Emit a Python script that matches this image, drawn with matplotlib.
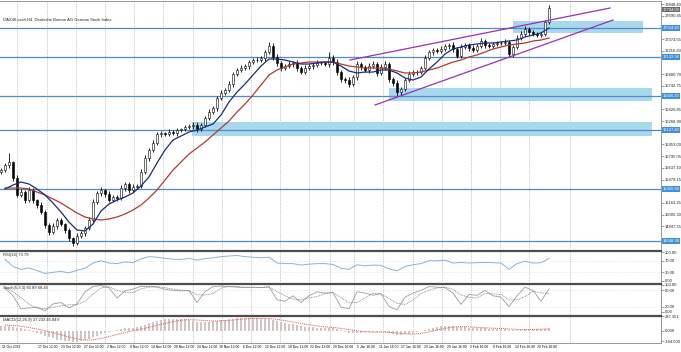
import matplotlib
matplotlib.use("Agg")
import matplotlib.pyplot as plt
import matplotlib.transforms as mtransforms
from matplotlib.patches import Rectangle
import numpy as np

W, H = 681, 352
FONT = "Liberation Sans"

# ---- price data (H4 candles) ----
first_open = 15580
close = [
    15607, 15675, 15715, 15499, 15270, 15310, 15202, 15337, 15202, 15135,
    15040, 14865, 14770, 14851, 14932, 14878, 14797, 14689, 14622, 14716,
    14757, 14824, 14932, 15175, 15297, 15337, 15283, 15202, 15243, 15229,
    15364, 15418, 15337, 15378, 15391, 15580, 15769, 15877, 15972, 16093,
    16107, 16093, 16120, 16107, 16147, 16161, 16188, 16201, 16215, 16161,
    16215, 16309, 16390, 16444, 16579, 16647, 16687, 16768, 16903, 16957,
    16984, 17011, 17065, 17092, 17092, 17119, 17200, 17281, 17133, 17052,
    16984, 17011, 17038, 17052, 16984, 16930, 16984, 17011, 17025, 17052,
    17052, 17038, 17119, 17065, 16930, 16836, 16822, 16768, 16863, 17038,
    16998, 16957, 17011, 17038, 16917, 16998, 17038, 16836, 16782, 16660,
    16701, 16822, 16903, 16930, 16930, 16984, 17119, 17200, 17227, 17214,
    17241, 17281, 17295, 17241, 17146, 17268, 17295, 17254, 17227, 17281,
    17349, 17295, 17281, 17308, 17322, 17322, 17335, 17173, 17268, 17389,
    17443, 17510, 17470, 17443, 17430, 17443, 17605, 17794,
]
wick_up = [
    25, 30, 120, 20, 35, 40, 25, 45, 30, 20,
    35, 25, 30, 45, 25, 30, 20, 25, 15, 40,
    30, 25, 45, 35, 30, 40, 20, 35, 25, 30,
    45, 30, 25, 40, 30, 35, 45, 30, 40, 25,
    30, 20, 35, 25, 30, 20, 25, 30, 35, 40,
    25, 30, 35, 30, 25, 35, 30, 40, 30, 25,
    35, 30, 25, 30, 35, 30, 25, 55, 40, 35,
    30, 25, 35, 30, 45, 30, 35, 25, 30, 35,
    25, 30, 80, 35, 40, 30, 25, 35, 30, 45,
    30, 25, 35, 40, 30, 45, 35, 30, 25, 35,
    30, 25, 35, 30, 25, 30, 40, 30, 25, 30,
    35, 25, 30, 35, 25, 45, 30, 25, 35, 30,
    40, 30, 25, 30, 25, 30, 35, 25, 30, 35,
    40, 35, 30, 25, 30, 30, 25, 40,
]
wick_dn = [
    30, 25, 35, 40, 30, 25, 45, 30, 35, 40,
    30, 35, 40, 25, 35, 30, 40, 35, 40, 30,
    25, 35, 30, 25, 30, 35, 40, 30, 25, 35,
    30, 40, 35, 25, 30, 25, 30, 35, 25, 30,
    35, 30, 25, 30, 35, 30, 25, 30, 35, 45,
    30, 25, 30, 25, 35, 30, 25, 30, 35, 30,
    25, 30, 35, 25, 30, 25, 35, 30, 40, 35,
    45, 30, 25, 35, 40, 30, 25, 30, 35, 30,
    25, 30, 35, 40, 45, 35, 40, 45, 30, 35,
    40, 30, 35, 30, 45, 30, 35, 40, 45, 50,
    35, 30, 25, 30, 35, 30, 25, 30, 35, 30,
    25, 30, 35, 45, 30, 25, 30, 35, 30, 25,
    30, 35, 30, 25, 30, 30, 25, 40, 35, 30,
    25, 30, 35, 30, 25, 30, 30, 20,
]

# moving averages / oscillators, sampled every second candle
ma_fast = [
    15351, 15405, 15445, 15418, 15351, 15270, 15162, 15040, 14905, 14797,
    14784, 14878, 15054, 15148, 15202, 15243, 15297, 15391, 15513, 15702,
    15877, 16012, 16066, 16120, 16147, 16188, 16228, 16350, 16525, 16660,
    16768, 16890, 17011, 17106, 17106, 17092, 17065, 17038, 17038, 17052,
    17065, 17065, 17011, 16944, 16917, 16930, 16930, 16957, 16957, 16917,
    16849, 16822, 16863, 16971, 17065, 17173, 17241, 17268, 17295, 17308,
    17322, 17322, 17335, 17349, 17362, 17403, 17430, 17457, 17524,
]
ma_slow = [
    15364, 15364, 15364, 15351, 15310, 15270, 15216, 15162, 15094, 15027,
    14973, 14946, 14932, 14946, 14973, 15013, 15067, 15135, 15229, 15337,
    15472, 15607, 15715, 15823, 15904, 15985, 16080, 16174, 16269, 16390,
    16498, 16620, 16755, 16890, 16957, 16998, 17038, 17052, 17065, 17065,
    17065, 17065, 17038, 17011, 16998, 16984, 16984, 16984, 16971, 16944,
    16917, 16917, 16930, 16957, 16984, 17025, 17065, 17092, 17133, 17160,
    17200, 17241, 17268, 17295, 17308, 17322, 17349, 17362, 17389,
]
rsi = [
    75, 50, 40, 45, 36, 26, 30, 33, 28, 37,
    44, 62, 70, 62, 60, 66, 63, 76, 84, 82,
    78, 75, 74, 78, 72, 77, 80, 84, 86, 88,
    84, 82, 80, 82, 62, 60, 60, 55, 58, 60,
    60, 57, 44, 40, 56, 52, 55, 54, 42, 35,
    50, 56, 60, 70, 70, 72, 62, 64, 62, 63,
    64, 63, 62, 40, 60, 68, 62, 63, 78,
]
stoch_main = [
    88, 60, 12, 15, 18, 4, 30, 35, 15, 30,
    75, 94, 98, 90, 52, 78, 85, 95, 95, 92,
    84, 80, 78, 80, 35, 75, 94, 96, 94, 92,
    90, 92, 90, 94, 45, 40, 60, 35, 60, 75,
    70, 72, 18, 12, 75, 70, 62, 68, 20, 8,
    55, 70, 80, 94, 92, 90, 70, 28, 65, 62,
    80, 60, 55, 20, 60, 92, 80, 40, 85,
]
stoch_signal = [
    90, 75, 53, 29, 15, 12, 17, 23, 27, 27,
    40, 66, 89, 94, 80, 73, 72, 86, 92, 94,
    90, 85, 81, 79, 64, 63, 68, 88, 95, 94,
    92, 91, 91, 92, 76, 60, 48, 45, 52, 57,
    68, 72, 53, 34, 35, 52, 69, 67, 50, 32,
    28, 44, 68, 81, 89, 92, 84, 63, 54, 52,
    69, 67, 65, 45, 45, 57, 77, 71, 68,
]
macd_hist = [
    85, 80, 78, 70, 55, 40, 25, 12, -10, -30,
    -55, -80, -100, -118, -135, -148, -158, -165, -172, -170,
    -162, -150, -128, -100, -75, -50, -30, -12, 5, 18,
    30, 40, 45, 52, 60, 80, 100, 120, 142, 160,
    175, 185, 192, 195, 194, 190, 182, 175, 165, 150,
    142, 140, 145, 152, 162, 170, 180, 188, 196, 202,
    206, 208, 207, 204, 200, 196, 194, 190, 175, 160,
    142, 128, 118, 108, 95, 80, 70, 62, 56, 50,
    47, 45, 44, 40, 25, 10, -8, -25, -32, -28,
    -24, -20, -16, -14, -15, -12, -14, -28, -45, -60,
    -62, -55, -45, -35, -20, -2, 18, 38, 55, 68,
    78, 85, 86, 80, 68, 62, 58, 52, 48, 46,
    45, 42, 38, 36, 35, 33, 32, 15, 8, 12,
    20, 28, 30, 31, 30, 28, 34, 45,
]
macd_signal = [
    95, 88, 75, 55, 32, 5, -25, -60, -95, -125,
    -145, -140, -118, -88, -55, -25, 5, 30, 58, 90,
    120, 150, 170, 180, 175, 165, 158, 160, 168, 180,
    192, 200, 200, 196, 185, 165, 142, 120, 98, 80,
    66, 56, 42, 22, 2, -12, -18, -18, -20, -32,
    -45, -48, -38, -15, 15, 42, 62, 70, 66, 58,
    50, 44, 40, 33, 25, 22, 25, 28, 33,
]

# drawn objects: support/resistance levels, zones, channel
levels = [17524.40, 17132.90, 16606.40, 16147.40, 15350.90, 14648.90]
zone_start = [128.0, 97.0, 47.75]
zone_end = [160.5, 162.75, 162.75]
zone_low = [17457, 16539, 16066]
zone_high = [17619, 16714, 16255]
chan_up_idx = [87.25, 152.25]
chan_up_px = [17092, 17794]
chan_lo_idx = [93.5, 153.0]
chan_lo_px = [16485, 17632]

price_ticks = [
    17848.40, 17690.45, 17532.50, 17374.55, 17216.60, 17058.65, 16900.70,
    16742.75, 16584.80, 16426.85, 16268.90, 16110.95, 15953.00, 15795.05,
    15637.10, 15479.15, 15321.20, 15163.25, 15005.30, 14847.35, 14689.40,
]
date_labels = [
    "17 Oct 12:00", "23 Oct 12:00", "27 Oct 12:00", "2 Nov 12:00",
    "8 Nov 12:00", "14 Nov 12:00", "20 Nov 12:00", "24 Nov 12:00",
    "30 Nov 12:00", "6 Dec 12:00", "12 Dec 12:00", "18 Dec 12:00",
    "22 Dec 12:00", "29 Dec 16:00", "5 Jan 16:00", "11 Jan 16:00",
    "17 Jan 16:00", "23 Jan 16:00", "29 Jan 16:00", "2 Feb 16:00",
    "8 Feb 16:00", "14 Feb 16:00", "20 Feb 16:00",
]

GRID_PX = [17, 47, 76, 105, 134, 163, 193, 222, 251, 280, 309, 330,
           354, 383, 413, 442, 471, 500, 529, 570]
SEP = "#4d4d4d"
PTS_PER_PX = 13.5


def px2idx(px):
    return (px - 1) / 4.0


def pane(y0, y1, x0=0, x1=661):
    return fig.add_axes([x0 / W, 1 - y1 / H, (x1 - x0) / W, (y1 - y0) / H])


def style_pane(ax, ylim, ticks, ticklabels, title):
    ax.set_xlim(-0.25, px2idx(661))
    ax.set_ylim(*ylim)
    ax.set_xticks([])
    ax.yaxis.tick_right()
    ax.set_yticks(ticks)
    ax.set_yticklabels(ticklabels, fontsize=3, family=FONT, color="#222222")
    ax.tick_params(axis="y", length=2, width=0.4, pad=1, colors="#555555",
                   labelcolor="#222222")
    for s in ("left", "bottom"):
        ax.spines[s].set_visible(False)
    ax.spines["right"].set_color("#888888")
    ax.spines["right"].set_linewidth(0.6)
    ax.spines["top"].set_color(SEP)
    ax.spines["top"].set_linewidth(1.6)
    for g in GRID_PX:
        ax.axvline(px2idx(g), color="#9a9a9a", lw=0.5, ls=(0, (1, 1.5)), zorder=0.5)
    if title:
        ax.text(0.004, 0.93, title, transform=ax.transAxes, fontsize=3,
                family=FONT, va="top", color="#222222")


fig = plt.figure(figsize=(W / 100, H / 100), dpi=100)
fig.patch.set_facecolor("white")

c = np.array(close, dtype=float)

# the platform hides scale labels that sit under a highlighted level box
shown_ticks = [t for t in price_ticks
               if min(abs(t - b) for b in levels) > 6 * PTS_PER_PX]

# ---- main price pane ----
ax = pane(0.5, 248.5)
style_pane(ax, (14547.65, 17895.65), shown_ticks, [f"{v:.2f}" for v in shown_ticks],
           "DAX40.cash,H4  Deutsche Boerse AG German Stock Index")
ax.spines["top"].set_color("#888888")
ax.spines["top"].set_linewidth(0.6)

for s, e, lo, hi in zip(zone_start, zone_end, zone_low, zone_high):
    ax.add_patch(Rectangle((s, lo), e - s, hi - lo, fc="#a7d8ec", ec="none", zorder=1))
for lv in levels:
    ax.axhline(lv, color="#4f8cc6", lw=0.9, zorder=1.5)

o = np.r_[first_open, c[:-1]]
hi = np.maximum(o, c) + np.array(wick_up)
lo = np.minimum(o, c) - np.array(wick_dn)
idx = np.arange(len(c))
ax.vlines(idx, lo, hi, color="black", lw=0.6, zorder=3)
bull = c >= o
ax.bar(idx[bull], (c - o)[bull], bottom=o[bull], width=0.65, color="white",
       edgecolor="black", lw=0.4, zorder=4)
ax.bar(idx[~bull], (o - c)[~bull], bottom=c[~bull], width=0.65, color="black",
       edgecolor="black", lw=0.4, zorder=4)

ind_idx = np.arange(1, len(c), 2)
ax.plot(ind_idx, ma_slow, color="#b03a2e", lw=0.9, zorder=5)
ax.plot(ind_idx, ma_fast, color="#1c2a80", lw=0.9, zorder=5)

ax.plot(chan_up_idx, chan_up_px, color="#9b2fb5", lw=0.9, zorder=5)
ax.plot(chan_lo_idx, chan_lo_px, color="#9b2fb5", lw=0.9, zorder=5)

ytr = mtransforms.blended_transform_factory(ax.transAxes, ax.transData)
for lv in levels:
    ax.text(1.002, lv, f"{lv:.2f}", transform=ytr, fontsize=3, family=FONT,
            color="white", va="center", ha="left", clip_on=False, zorder=10,
            bbox=dict(boxstyle="square,pad=0.15", fc="#3f8fdc", ec="none"))
ax.text(1.002, c[-1] - 1.5 * PTS_PER_PX, f"{c[-1]:.2f}", transform=ytr,
        fontsize=3, family=FONT, color="white", va="center", ha="left",
        clip_on=False, zorder=10,
        bbox=dict(boxstyle="square,pad=0.1", fc="#6a6a6a", ec="none"))

# ---- RSI ----
ax_rsi = pane(250.5, 282)
style_pane(ax_rsi, (-3.45, 105.2), [100, 70, 30, 0],
           ["100.00", "70.00", "30.00", "0.00"], "RSI(14) 73.79")
for lv in (70, 30):
    ax_rsi.axhline(lv, color="#c8c8c8", lw=0.4, ls=(0, (1, 2)))
ax_rsi.plot(ind_idx, rsi, color="#86b3da", lw=0.7)

# ---- Stochastic ----
ax_st = pane(284, 314.5)
style_pane(ax_st, (-9.26, 103.7), [100, 80, 20, 0],
           ["100.00", "80.00", "20.00", "0.00"], "Stoch(5,3,3) 80.89 68.45")
for lv in (80, 20):
    ax_st.axhline(lv, color="#c8c8c8", lw=0.4, ls=(0, (1, 2)))
ax_st.plot(ind_idx, stoch_main, color="#9c9c9c", lw=0.6)
ax_st.plot(ind_idx, stoch_signal, color="#7a7a7a", lw=0.6, ls=(0, (1, 1)))

# ---- MACD ----
ax_m = pane(316, 343)
style_pane(ax_m, (-189.6, 237.0), [237.0, 0, -164.0],
           ["237.351", "0.000", "-164.000"], "MACD(12,26,9) 37.233 45.849")
ax_m.bar(idx, macd_hist, width=0.45, color="#d2c4c4", lw=0)
ax_m.plot(ind_idx, macd_signal, color="#d9534f", lw=0.7, ls=(0, (1, 1)))
ax_m.spines["bottom"].set_visible(True)
ax_m.spines["bottom"].set_color("#888888")
ax_m.spines["bottom"].set_linewidth(0.6)

# date labels under the last pane
xtr = mtransforms.blended_transform_factory(ax_m.transData, ax_m.transAxes)
ax_m.text(px2idx(2), -0.16, "11 Oct 2023", transform=xtr, fontsize=2.4,
          family=FONT, ha="left", va="center", clip_on=False)
for k, lab in enumerate(date_labels):
    ax_m.text(px2idx(48 + 22.7 * k), -0.16, lab, transform=xtr, fontsize=2.4,
              family=FONT, ha="center", va="center", clip_on=False)

fig.savefig("out.png", dpi=100)
